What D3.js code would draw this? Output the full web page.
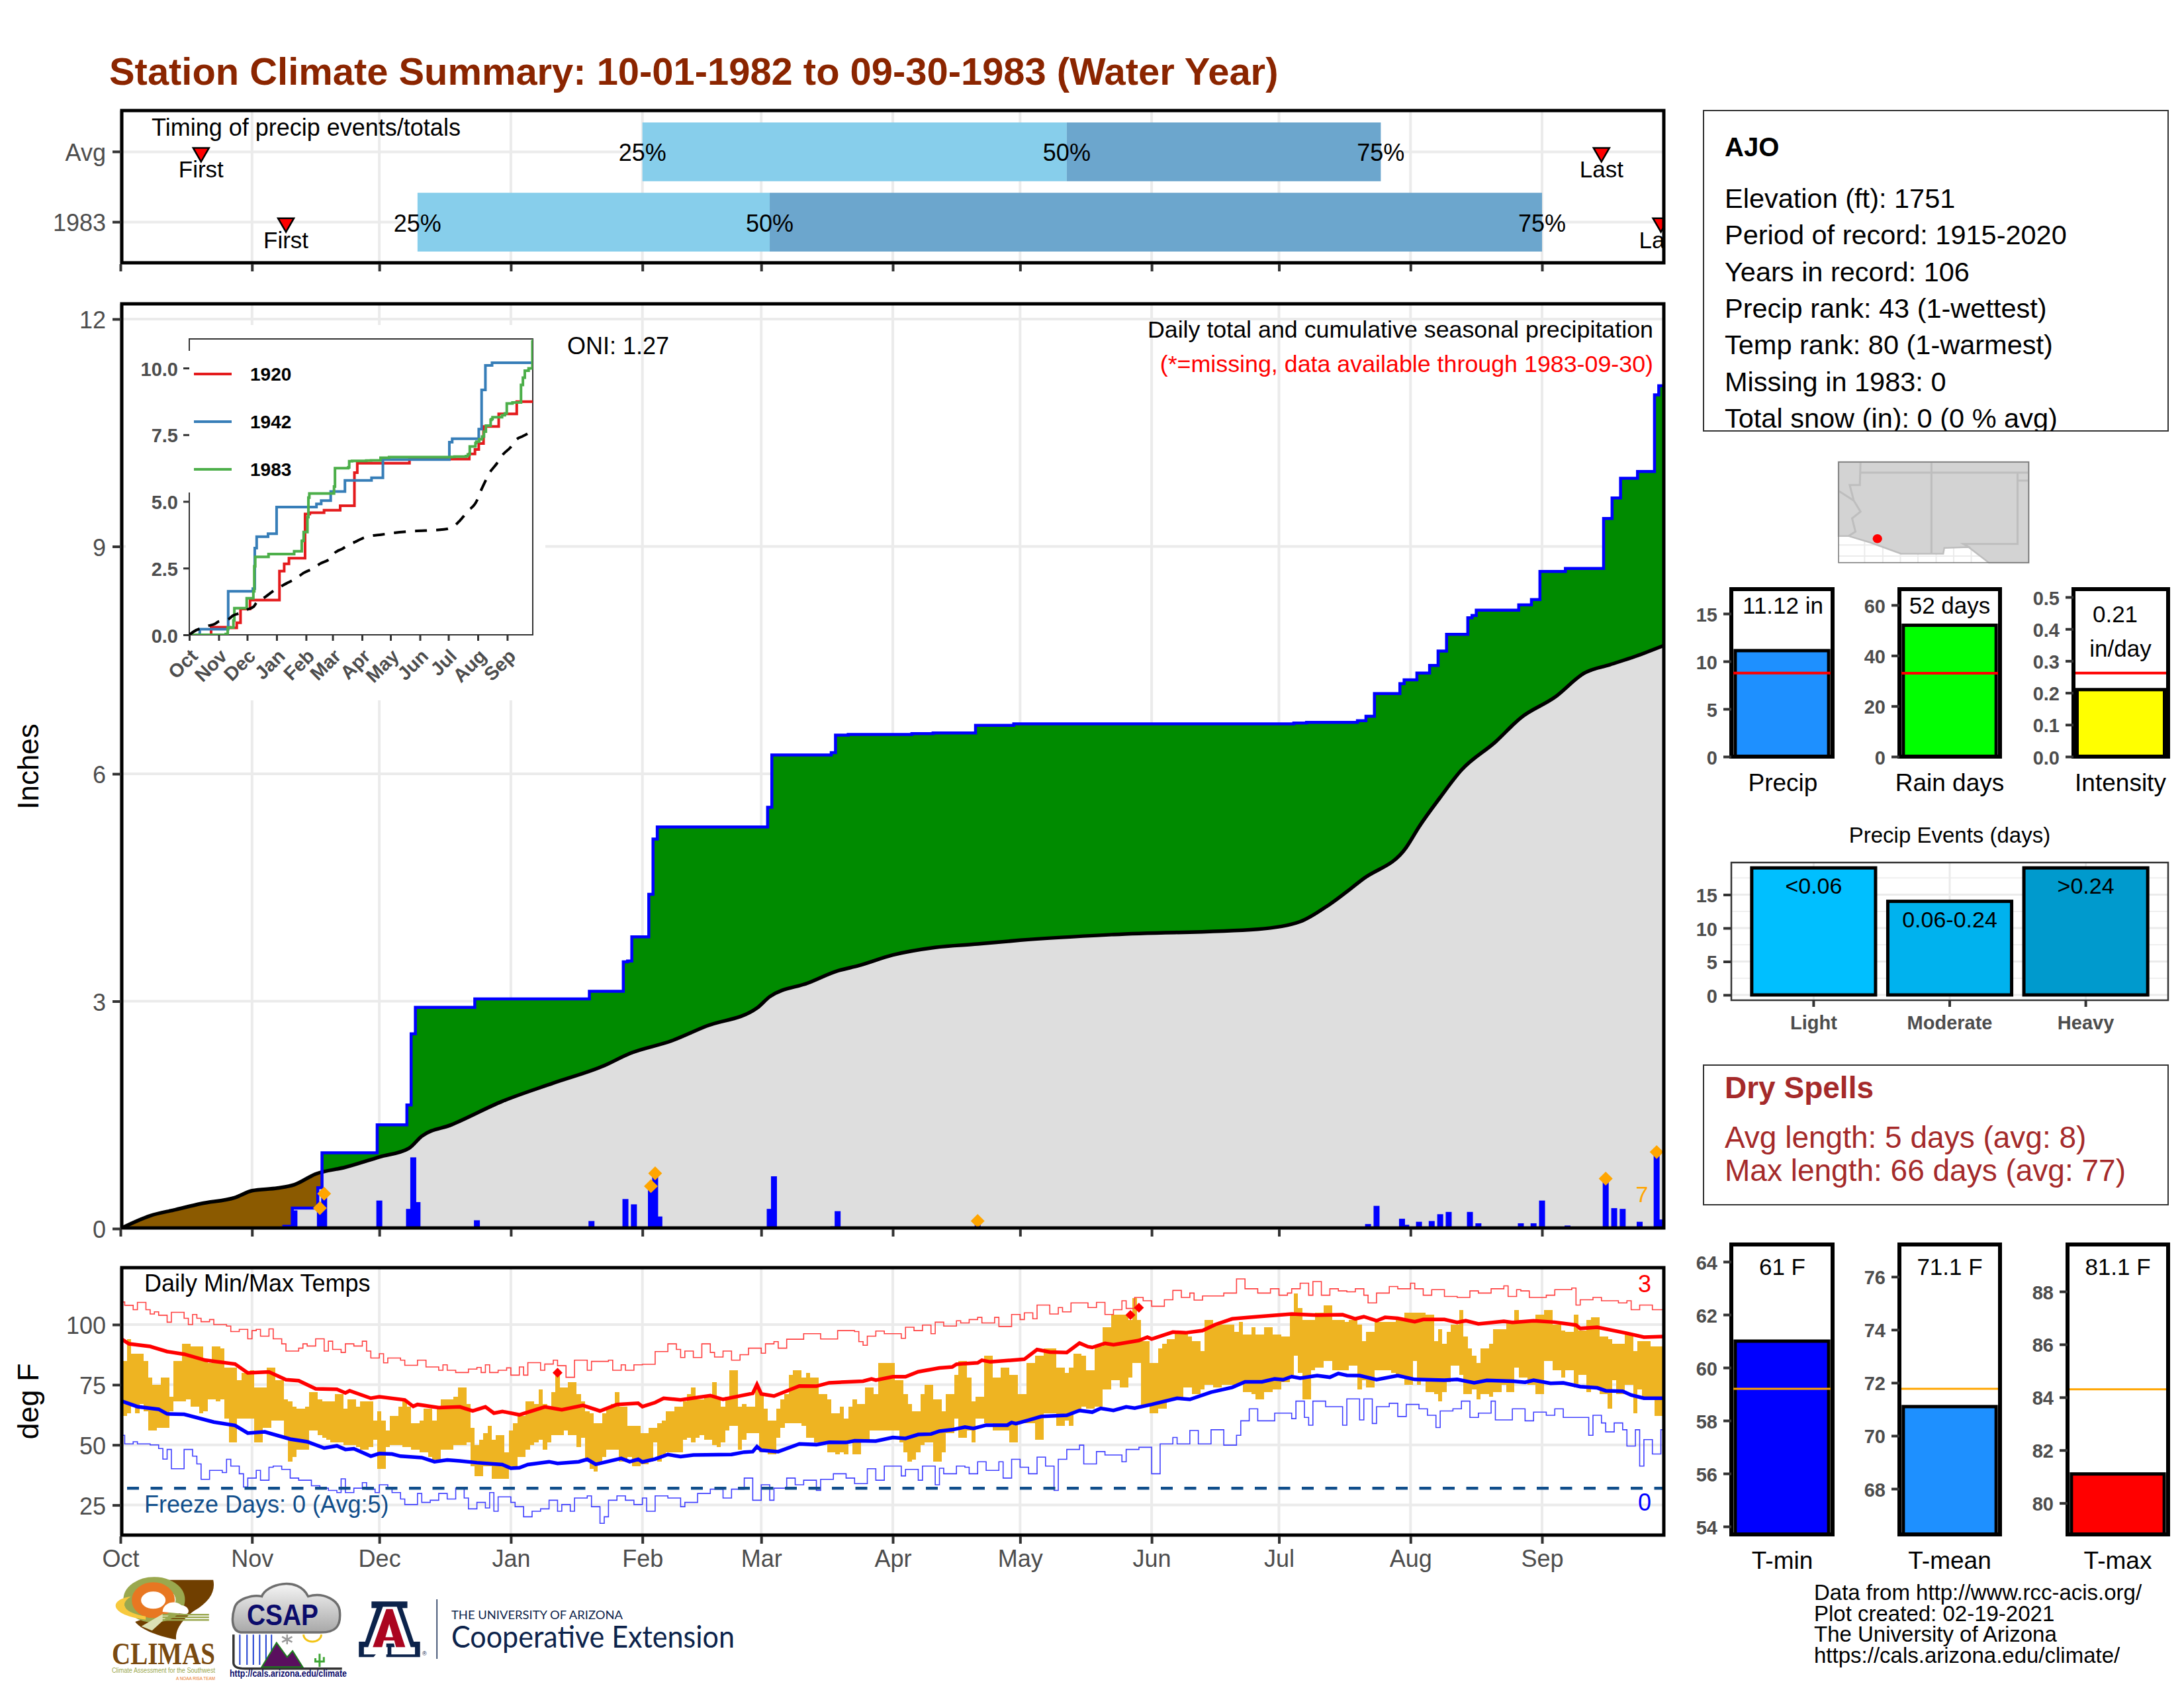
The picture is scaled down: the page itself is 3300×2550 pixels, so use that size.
<!DOCTYPE html>
<html>

<head>
  <title>Station Climate Summary</title>
  <script src="https://d3js.org/d3.v7.min.js"></script>
  <style>
    body { margin: 0; background: #fff; }
    text { font-family: "Liberation Sans", Arial, sans-serif; }
  </style>
</head>

<body>
  <div id="chart"></div>

  <script>
    const monthNames = ["Oct", "Nov", "Dec", "Jan", "Feb", "Mar", "Apr", "May", "Jun", "Jul", "Aug", "Sep"]
    const monthStarts = [0, 31, 61, 92, 123, 151, 182, 212, 243, 273, 304, 335]

    // timing strip
    const timingRows = ["Avg", "1983"]
    const timingFirst = [19, 39]
    const timingQ25 = [123, 70]
    const timingQ50 = [223, 153]
    const timingQ75 = [297, 335]
    const timingLast = [349, 363]

    // daily precip, only the days with rain
    const rainDays = [39, 41, 47, 48, 61, 68, 69, 70, 84, 111, 119, 120, 121, 125, 126, 127, 153, 154, 168, 169, 172, 187, 192, 202, 211, 277, 280, 292, 294, 296, 302, 303, 306, 309, 311, 313, 318, 319, 320, 330, 333, 335, 341, 350, 352, 354, 358, 362, 363]
    const rainAmounts = [.03, .24, .27, .46, .37, .26, .94, .35, .11, .10, .39, .01, .32, .56, .73, .16, .26, .69, .03, .23, .01, .01, .01, .10, .02, .01, .01, .02, .06, .30, .13, .05, .09, .10, .19, .22, .22, .03, .07, .07, .07, .37, .04, .66, .27, .26, .09, 1.01, .12]
    const rainRecordDays = [47, 48, 125, 126, 202, 350, 362]

    // climatological cumulative precip [day, inches]
    const avgPrecip = [[0, 0], [7, .17], [13, .25], [19, .33], [27, .41], [31, .50], [37, .535], [41, .58], [46, .72], [53, .81], [61, .945], [68, 1.06], [71, 1.22], [78, 1.37], [90, 1.68], [102, 1.92], [114, 2.15], [120, 2.31], [130, 2.48], [138, 2.67], [150, 2.91], [153, 3.06], [162, 3.24], [169, 3.40], [174, 3.47], [182, 3.61], [192, 3.71], [202, 3.755], [212, 3.805], [234, 3.88], [268, 3.95], [278, 4.05], [285, 4.28], [293, 4.62], [303, 5.03], [306, 5.30], [311, 5.69], [316, 6.05], [324, 6.42], [330, 6.74], [338, 7.01], [345, 7.33], [351, 7.44], [357, 7.55], [364, 7.70]]

    // analog years in the inset [day, inches]
    const year1920 = [[0, 0], [23, .285], [43, .26], [50, .45], [54, .97], [64, 1.30], [95, 2.39], [100, 2.66], [105, 2.87], [122, 4.53], [127, 4.58], [142, 4.67], [159, 4.84], [174, 6.08], [177, 6.43], [232, 6.59], [295, 6.78], [301, 6.95], [305, 7.17], [310, 7.81], [326, 8.28], [345, 8.74]]
    const year1942 = [[0, 0], [11, .21], [41, 1.63], [67, 1.73], [69, 3.25], [71, 3.68], [83, 3.79], [92, 4.79], [134, 4.91], [139, 5.03], [149, 5.37], [164, 5.79], [192, 5.89], [204, 6.57], [274, 7.22], [277, 7.35], [305, 7.71], [308, 9.18], [312, 10.1], [319, 10.2]]

    // daily max and min temps
    const tmax = [80, 85, 94, 88, 88, 88, 85, 78, 75, 75, 78, 78, 70, 85, 85, 92, 92, 91, 91, 91, 85, 84, 91, 91, 90, 82, 82, 82, 77, 80, 80, 81, 74, 74, 74, 82, 82, 77, 77, 69, 68, 66, 65, 65, 66, 72, 72, 69, 68, 68, 68, 71, 71, 65, 69, 69, 66, 68, 68, 68, 60, 64, 60, 56, 62, 62, 66, 69, 66, 59, 59, 60, 65, 65, 60, 66, 69, 69, 69, 70, 74, 74, 67, 57, 50, 52, 55, 58, 52, 54, 54, 47, 56, 59, 62, 62, 68, 68, 67, 73, 67, 66, 72, 80, 74, 74, 76, 76, 71, 68, 64, 63, 59, 59, 63, 65, 67, 72, 66, 66, 58, 58, 58, 55, 55, 57, 57, 59, 60, 64, 64, 66, 66, 68, 71, 74, 69, 69, 70, 70, 76, 69, 66, 70, 81, 81, 66, 67, 66, 66, 74, 71, 65, 60, 60, 65, 69, 71, 79, 81, 81, 78, 80, 78, 78, 71, 71, 69, 63, 63, 66, 61, 66, 69, 67, 67, 74, 74, 71, 84, 84, 84, 84, 77, 77, 71, 67, 64, 64, 71, 75, 75, 69, 69, 64, 71, 71, 79, 85, 85, 78, 68, 70, 70, 87, 87, 78, 78, 82, 82, 79, 79, 71, 71, 84, 84, 87, 87, 90, 90, 90, 82, 82, 80, 82, 88, 88, 87, 81, 81, 91, 91, 99, 99, 104, 104, 104, 104, 102, 111, 102, 93, 93, 84, 84, 90, 92, 94, 94, 97, 97, 97, 95, 93, 93, 89, 102, 102, 100, 100, 100, 100, 100, 97, 101, 96, 96, 99, 96, 96, 99, 99, 96, 96, 95, 95, 104, 113, 107, 102, 102, 102, 105, 105, 108, 108, 102, 102, 102, 101, 102, 102, 100, 93, 97, 97, 101, 101, 101, 101, 101, 102, 102, 105, 105, 105, 105, 105, 104, 104, 93, 98, 92, 97, 100, 100, 106, 95, 90, 87, 84, 90, 90, 92, 98, 98, 98, 101, 101, 106, 102, 102, 102, 102, 104, 104, 106, 106, 100, 100, 97.5, 97, 97, 104, 97.5, 97.5, 102, 103, 103, 95, 95, 94, 92, 92, 92, 96, 96, 89, 93, 93, 93, 91, 91, 91, 91]
    const tmin = [62, 62, 63, 66, 63, 67, 64, 56, 56, 57, 57, 57, 64, 68, 68, 68, 69, 66, 66, 63, 64, 69, 69, 68, 69, 61, 51, 51, 61, 61, 61, 61, 51, 51, 57, 57, 60, 60, 60, 53, 43, 45, 48, 48, 48, 56, 56, 54, 53, 52, 51, 51, 51, 50, 50, 50, 49, 48, 48, 49, 52, 40, 40, 49, 50, 50, 50, 49, 49, 48, 48, 47, 47, 45, 44, 43, 48, 48, 48, 50, 50, 50, 51, 41, 37, 37, 41, 41, 36, 36, 36, 36, 41, 41, 45, 45, 48, 50, 51, 52, 48, 51, 54, 54, 54, 56, 54, 54, 49, 53, 44, 40, 39, 42, 45, 48, 48, 48, 43, 43, 45, 41, 41, 42, 42, 43, 51, 43, 46, 47, 47, 47, 47, 52, 53, 51, 53, 54, 52, 52, 50, 49, 51, 56, 58, 58, 48, 52, 55, 55, 55, 47, 47, 46, 46, 53, 57, 59, 59, 59, 59, 58, 53, 53, 51, 51, 51, 47, 47, 46, 47, 46, 51, 46, 46, 51, 51, 56, 56, 56, 56, 56, 56, 56, 51, 47, 43, 44, 47, 50, 51, 51, 43, 43, 47, 55, 55, 61, 53, 53, 56, 51, 61, 61, 59, 59, 56, 56, 56, 56, 51, 51, 59, 59, 59, 59, 52, 52, 63, 63, 63, 58, 58, 60, 58, 64, 64, 66, 65, 65, 66, 66, 73, 73, 77, 77, 74, 74, 78, 84, 84, 66, 66, 63, 63, 65, 65, 69, 69, 69, 69, 74, 74, 71, 71, 73, 75, 75, 74, 74, 75, 75, 75, 75, 75, 72, 72, 71, 69, 69, 72, 72, 73, 73, 76, 76, 79, 87, 80, 69, 69, 81, 82, 82, 85, 85, 81, 81, 81, 81, 83, 83, 73, 77, 74, 74, 81, 81, 81, 81, 80, 78, 78, 75, 75, 85, 75, 77, 72, 72, 71, 68, 72, 76, 83, 83, 79, 71, 71, 73, 69, 71, 71, 70, 72, 72, 75, 72, 72, 82, 78, 78, 75, 75, 71, 71, 85, 85, 81, 81, 78, 81, 81, 74, 79, 79, 72, 74, 74, 71, 71, 65, 77, 71, 71, 75, 75, 63, 73, 69, 69, 70, 62, 62, 62]
    const recordHighDays = [103, 238, 240]
    const recordHighTemps = [80, 104, 107]

    // smoothed climatology [day, deg F]
    const avgMax = [[0, 94.3], [2, 92], [7, 90.9], [11, 88.8], [15, 87.7], [20, 85.2], [27, 83.6], [30, 79.9], [35, 80.3], [39, 77.1], [42, 76.7], [46, 73.3], [51, 73.1], [53, 71.6], [54, 72.5], [59, 69.4], [61, 70], [67, 68.7], [69, 66], [70, 66.8], [75, 65.5], [80, 65.8], [83, 64.1], [86, 65.8], [88, 63.2], [90, 63.9], [94, 62.5], [100, 65.8], [104, 64.6], [109, 66.4], [113, 64.1], [117, 66.8], [122, 67.3], [123, 65.9], [126, 67.6], [128, 69.4], [132, 68.7], [139, 70.5], [142, 68.9], [149, 71.4], [150, 75.1], [151, 71.2], [154, 70.3], [160, 74.5], [164, 74.4], [167, 75.8], [175, 76.5], [177, 77.4], [178, 76.9], [182, 78.3], [185, 78.3], [188, 80.4], [193, 82], [196, 82.4], [197, 83.5], [199, 83.8], [202, 84.1], [203, 85.2], [205, 84.5], [213, 85.6], [216, 89.6], [219, 88.6], [223, 88.4], [226, 92.3], [228, 90.8], [229, 90.5], [232, 92.2], [234, 91.6], [240, 93.4], [242, 94.8], [243, 94], [248, 96.9], [251, 96.6], [255, 97.5], [258, 100], [262, 102.4], [268, 103.3], [276, 104.4], [282, 103.9], [288, 104.1], [291, 102.4], [293, 103.3], [296, 101.6], [298, 103], [301, 102.6], [305, 101.2], [307, 102.1], [312, 102.1], [315, 100.9], [317, 101.6], [320, 100.3], [326, 101.4], [328, 100.9], [333, 101.6], [338, 101], [343, 99.8], [344, 98.4], [348, 98.9], [355, 96.4], [359, 94.8], [364, 95.1]]
    const avgMin = [[0, 68.4], [4, 65.9], [9, 64.8], [11, 62.9], [15, 62.7], [22, 59.5], [27, 58.1], [30, 54.9], [34, 55.4], [40, 52.4], [44, 51.3], [48, 48.7], [51, 49.6], [53, 48.1], [55, 48.4], [59, 45.3], [61, 46.4], [64, 46.2], [66, 45.3], [71, 44.7], [74, 43], [77, 43.7], [80, 43.3], [84, 42.6], [90, 41.8], [92, 40.3], [94, 40.5], [96, 41.8], [101, 43], [103, 42.3], [108, 43], [110, 44], [112, 41.9], [118, 44.4], [120, 43], [122, 44], [123, 42.9], [126, 44.1], [129, 46], [132, 45.1], [135, 45.8], [144, 46], [147, 47], [149, 47.2], [150, 49.3], [151, 47.8], [155, 47.2], [160, 50.4], [164, 50.1], [167, 51.1], [171, 51], [173, 51.7], [178, 51.6], [182, 53.1], [185, 52.7], [188, 54.3], [191, 54.5], [193, 55.7], [196, 56.3], [199, 57.4], [201, 56.8], [204, 58.2], [209, 58.2], [210, 59.3], [211, 58.8], [214, 60.3], [217, 61.8], [223, 62.3], [226, 64.3], [229, 63.6], [231, 65.2], [234, 64.3], [237, 65.8], [239, 65.3], [243, 66.8], [249, 69.4], [252, 68.9], [257, 71.9], [262, 73.9], [265, 76.2], [269, 76.2], [272, 77.4], [274, 77.1], [276, 78.4], [278, 77.7], [282, 78.8], [285, 78.1], [287, 79.7], [289, 78.9], [292, 78.8], [296, 77.1], [301, 78.8], [305, 77.2], [312, 76.9], [315, 77.2], [319, 75.8], [322, 76.8], [328, 76.5], [331, 76], [333, 76.9], [337, 75.6], [340, 75.8], [344, 74.2], [348, 73.7], [350, 72.5], [354, 72.3], [356, 70.7], [359, 69.4], [364, 69.4]]

    // daily records, change points only [day, deg F]
    const recHigh = [[0, 109.4], [1, 108], [3, 106.2], [4, 109.2], [6, 106.2], [7, 104.4], [8, 105.3], [9, 103.9], [11, 101], [12, 105.1], [15, 102.6], [16, 100], [17, 104.2], [18, 102.6], [19, 101.2], [21, 102.1], [22, 100], [25, 99.4], [26, 97.1], [28, 98], [30, 94.1], [31, 97.5], [32, 98], [33, 95.2], [35, 98.2], [36, 94.1], [38, 92], [39, 89], [42, 90.2], [43, 92], [44, 91.1], [46, 94.1], [48, 89], [49, 93.1], [50, 89.7], [52, 88.4], [53, 92], [55, 91.1], [57, 93.1], [58, 89], [59, 86.1], [61, 87.9], [62, 84.1], [63, 86.1], [66, 85.2], [67, 83.1], [70, 85.2], [72, 82.4], [75, 81], [76, 83.3], [77, 81], [79, 80.1], [82, 81.5], [84, 82.2], [85, 80.1], [86, 83.3], [87, 80.1], [89, 81], [91, 82], [92, 79], [94, 82.4], [95, 79], [96, 84.2], [99, 81], [100, 83.6], [102, 85.2], [103, 82.9], [105, 78.1], [107, 85.2], [110, 81], [111, 84.7], [115, 85.2], [116, 81], [118, 83.3], [119, 81], [121, 83.3], [123, 83.5], [126, 88.8], [129, 92], [131, 89.7], [132, 86.3], [133, 89], [135, 86.3], [137, 92], [139, 88.4], [140, 86.5], [142, 89], [144, 85.2], [146, 87.5], [148, 90.2], [151, 88.1], [152, 92], [154, 92.9], [155, 90.2], [157, 93.9], [161, 96.2], [165, 94], [169, 97.5], [173, 97.1], [174, 92.9], [175, 91.4], [176, 95.2], [178, 97.3], [180, 96.2], [184, 94.3], [185, 98.9], [187, 97.5], [189, 99.8], [191, 96.2], [192, 101], [194, 99.4], [197, 101.6], [198, 100.7], [200, 102.1], [202, 103], [203, 100.7], [206, 103], [207, 99.2], [210, 104.2], [212, 102.1], [213, 104.9], [215, 102.4], [216, 108.1], [219, 104.4], [221, 107.1], [222, 105.3], [224, 109], [228, 107.1], [230, 109.2], [232, 104.2], [234, 106.2], [236, 109.9], [237, 106.7], [239, 111.3], [241, 109.9], [243, 107.6], [246, 110.3], [248, 114.2], [250, 111.3], [252, 113.1], [253, 110.2], [255, 111.9], [260, 113.1], [263, 119], [265, 114.9], [268, 113.1], [271, 114.9], [273, 112.2], [275, 113.1], [276, 114.9], [278, 117.2], [280, 112.2], [281, 117.9], [283, 112.2], [285, 114.9], [287, 114], [289, 113.6], [291, 114.9], [293, 112.2], [294, 109], [296, 113.1], [299, 115.8], [301, 114.9], [304, 117.2], [305, 114.9], [307, 112.2], [309, 114.5], [312, 111.7], [315, 111.3], [318, 114], [320, 113.1], [323, 114.9], [326, 116.1], [327, 111.7], [329, 114.5], [330, 114], [332, 111.3], [336, 112.2], [338, 114.5], [342, 115.2], [343, 108.1], [344, 110.3], [347, 111.3], [349, 109.9], [353, 109], [355, 109.9], [356, 106.2], [358, 108.1], [361, 106.2], [364, 106.2]]
    const recLow = [[0, 54], [1, 50.4], [3, 51.3], [4, 50.4], [7, 50], [9, 48.5], [10, 44.1], [11, 48.1], [12, 40.1], [15, 48.1], [17, 45.3], [18, 42.1], [19, 35.7], [21, 39.4], [24, 38.5], [25, 44], [26, 41.2], [28, 38], [29, 32.5], [30, 36.2], [32, 39.4], [33, 35.3], [35, 40.7], [36, 41.2], [38, 39.8], [40, 36.2], [42, 35.3], [45, 33], [47, 32], [49, 31.1], [51, 30.2], [52, 35.9], [53, 30.2], [55, 32], [57, 34.3], [58, 31.6], [60, 30.2], [61, 33.4], [63, 32], [64, 30.2], [66, 27.5], [67, 25.2], [70, 29.8], [71, 26.1], [73, 27], [75, 29.8], [77, 27.5], [79, 32], [81, 27.9], [82, 23.4], [84, 26.1], [86, 23.8], [87, 30.2], [88, 22.4], [89, 28.4], [92, 26.1], [93, 24.3], [95, 20.1], [97, 22.4], [99, 23.4], [101, 27], [103, 22.4], [104, 25.2], [106, 22.4], [107, 27.9], [110, 28.8], [111, 24.3], [113, 17.4], [114, 20.1], [115, 27], [117, 28.8], [119, 27], [121, 25.2], [123, 27.9], [124, 22.4], [126, 28.8], [129, 27.9], [132, 24.3], [133, 26.1], [136, 29.8], [139, 31.6], [142, 27.9], [144, 31.6], [147, 36.2], [149, 27], [151, 33.4], [153, 27], [154, 32], [157, 36.2], [159, 33.4], [161, 35.3], [164, 31.1], [165, 35.7], [168, 38], [171, 36.2], [173, 33.9], [176, 40.1], [178, 35.3], [180, 41.2], [184, 37.1], [185, 39.8], [188, 35.3], [189, 41.2], [192, 33.4], [193, 40.3], [194, 38], [197, 41.2], [199, 40.7], [200, 38], [202, 43], [204, 39.4], [207, 43], [208, 36.2], [210, 44], [212, 40.7], [214, 38], [216, 44.9], [218, 41.2], [220, 31.1], [221, 44], [223, 48.1], [226, 49.9], [227, 42.1], [230, 47.2], [232, 45.8], [236, 43], [237, 48.1], [240, 49], [243, 38], [245, 50.4], [248, 53.1], [249, 50.4], [252, 56], [254, 50.4], [257, 56.3], [260, 49.9], [263, 54], [264, 60], [266, 65], [268, 60], [272, 63.2], [276, 60.9], [277, 68.2], [279, 61.4], [280, 58.2], [281, 68.2], [284, 65.9], [288, 58.2], [289, 69.1], [292, 60.4], [293, 69.1], [295, 58.9], [296, 65.9], [299, 67.3], [301, 61.8], [303, 66.8], [306, 65], [308, 62.3], [310, 57.2], [311, 64.1], [314, 65], [316, 68.2], [318, 61.4], [320, 63.2], [323, 68.2], [324, 60.4], [328, 65], [331, 60], [333, 63.6], [336, 62.3], [338, 65], [340, 61.4], [344, 61.4], [346, 54], [347, 62.3], [349, 59.1], [350, 55.4], [352, 59.1], [354, 56.3], [355, 49.5], [357, 56.3], [358, 41.2], [359, 52.2], [361, 46.2], [363, 56.3], [364, 56.3]]
    const freezeLine = 32

    // side panels
    const stationLines = ["Elevation (ft): 1751", "Period of record: 1915-2020", "Years in record: 106", "Precip rank: 43 (1-wettest)", "Temp rank: 80 (1-warmest)", "Missing in 1983: 0", "Total snow (in): 0 (0 % avg)"]
    const eventLabels = ["Light", "Moderate", "Heavy"]
    const eventValues = [19, 14, 19]
    const eventText = ["<0.06", "0.06-0.24", ">0.24"]
    const eventColors = ["#00BFFF", "#00B2EE", "#009ACD"]
    const creditLines = ["Data from http://www.rcc-acis.org/", "Plot created: 02-19-2021", "The University of Arizona", "https://cals.arizona.edu/climate/"]

    const svg = d3.select("#chart").append("svg").attr("width", 3300).attr("height", 2550)
    const defs = svg.append("defs")
    let clipCount = 0

    function label(g, x, y, str, o = {}) {
      return g.append("text").attr("x", x).attr("y", y).text(str)
        .attr("font-size", o.size || 36)
        .attr("font-weight", o.weight || "normal")
        .attr("text-anchor", o.anchor || "start")
        .attr("fill", o.fill || "#000")
    }

    function clipRect(x, y, w, h) {
      const id = "clip" + (clipCount++)
      defs.append("clipPath").attr("id", id).append("rect").attr("x", x).attr("y", y).attr("width", w).attr("height", h)
      return `url(#${id})`
    }

    function styleAxis(g, size, weight, lineWidth) {
      g.select(".domain").remove()
      g.selectAll(".tick line").attr("stroke", "#333").attr("stroke-width", lineWidth || 4)
      g.selectAll(".tick text").attr("fill", "#4D4D4D").attr("font-size", size).attr("dy", ".38em")
        .attr("font-weight", weight || "normal").attr("font-family", '"Liberation Sans", Arial, sans-serif')
    }

    const L = 184, R = 2514
    const x = d3.scaleLinear().domain([0, 365]).range([182, 182 + 365 * 6.412])

    function grid(g, top, bottom, yScale, yTicks) {
      monthStarts.forEach(m => {
        g.append("line").attr("x1", x(m)).attr("x2", x(m)).attr("y1", top).attr("y2", bottom).attr("stroke", "#EBEBEB").attr("stroke-width", 4)
      })
      yTicks.forEach(t => {
        g.append("line").attr("x1", L).attr("x2", R).attr("y1", yScale(t)).attr("y2", yScale(t)).attr("stroke", "#EBEBEB").attr("stroke-width", 4)
      })
    }

    function frame(top, bottom) {
      svg.append("rect").attr("x", L).attr("y", top).attr("width", R - L).attr("height", bottom - top)
        .attr("fill", "none").attr("stroke", "#000").attr("stroke-width", 5)
    }

    function monthAxis(bottom, named) {
      const g = svg.append("g").attr("transform", `translate(0,${bottom})`)
        .call(d3.axisBottom(x).tickValues(monthStarts).tickSize(13)
          .tickFormat((d, i) => named ? monthNames[i] : ""))
      styleAxis(g, 36)
      g.selectAll(".tick line").attr("y1", 2)
      g.selectAll(".tick text").attr("dy", 0).attr("y", 48)
    }

    label(svg, 165, 128, "Station Climate Summary: 10-01-1982 to 09-30-1983 (Water Year)", { size: 57.9, weight: "bold", fill: "#8B2500" })

    // ---- timing strip
    const topTop = 167, topBottom = 397
    const yTiming = d3.scaleBand().domain(timingRows).range([185, 380]).paddingInner(.164)
    const timing = svg.append("g")
    grid(timing, topTop, topBottom, d => yTiming(d) + yTiming.bandwidth() / 2, timingRows)
    const timingClip = timing.append("g").attr("clip-path", clipRect(L, topTop, R - L, topBottom - topTop))
    timingRows.forEach((r, i) => {
      const yb = yTiming(r), h = yTiming.bandwidth(), cy = yb + h / 2
      timingClip.append("rect").attr("x", x(timingQ25[i])).attr("y", yb).attr("height", h)
        .attr("width", x(timingQ50[i]) - x(timingQ25[i])).attr("fill", "#87CEEB")
      timingClip.append("rect").attr("x", x(timingQ50[i])).attr("y", yb).attr("height", h)
        .attr("width", x(timingQ75[i]) - x(timingQ50[i])).attr("fill", "#6CA6CD")
      ;[timingQ25, timingQ50, timingQ75].forEach((q, k) => {
        label(timingClip, x(q[i]), cy + 14, ["25%", "50%", "75%"][k], { anchor: "middle" })
      })
      ;[[timingFirst, "First"], [timingLast, "Last"]].forEach(([arr, name]) => {
        timingClip.append("path").attr("d", d3.symbol(d3.symbolTriangle, 250)())
          .attr("transform", `translate(${x(arr[i])},${cy + 1}) rotate(180)`)
          .attr("fill", "#f00").attr("stroke", "#000").attr("stroke-width", 2.5)
        label(timingClip, x(arr[i]), cy + 39, name, { anchor: "middle", size: 35 })
      })
    })
    label(timingClip, 229, 205, "Timing of precip events/totals", { size: 36 })
    frame(topTop, topBottom)
    const timingAxis = svg.append("g").attr("transform", "translate(183,0)")
      .call(d3.axisLeft(yTiming).tickSize(13).tickPadding(10))
    styleAxis(timingAxis, 36)
    monthAxis(topBottom, false)

    // ---- main precip panel
    const mainTop = 459, mainBottom = 1855
    const yP = d3.scaleLinear().domain([0, 12]).range([1856, 482])
    const main = svg.append("g")
    grid(main, mainTop, mainBottom, yP, [0, 3, 6, 9, 12])

    const rainByDay = new Map(rainDays.map((d, i) => [d, rainAmounts[i]]))
    const cumDaily = []
    d3.range(365).reduce((sum, day) => {
      const total = sum + (rainByDay.get(day) || 0)
      cumDaily.push({ day, total })
      return total
    }, 0)

    const plotClip = main.append("g").attr("clip-path", clipRect(L, mainTop, R - L, mainBottom - mainTop))
    const cumArea = d3.area().curve(d3.curveStep).x(d => x(d.day)).y0(yP(0)).y1(d => yP(d.total))
    const avgArea = d3.area().curve(d3.curveMonotoneX).x(d => x(d[0])).y0(yP(0)).y1(d => yP(d[1]))
    plotClip.append("path").attr("d", cumArea(cumDaily)).attr("fill", "#008B00")
    plotClip.append("path").attr("d", avgArea(avgPrecip)).attr("fill", "#8B5A00")

    const underCum = "underCum"
    defs.append("clipPath").attr("id", underCum).append("path").attr("d", cumArea(cumDaily))
    plotClip.append("g").attr("clip-path", `url(#${underCum})`).append("path")
      .attr("d", avgArea(avgPrecip)).attr("fill", "#DEDEDE")

    plotClip.selectAll(".rainbar").data(rainDays).enter().append("rect")
      .attr("x", d => x(d) - 4.5).attr("width", 9)
      .attr("y", d => yP(rainByDay.get(d))).attr("height", d => yP(0) - yP(rainByDay.get(d)))
      .attr("fill", "#0000FF")

    plotClip.append("path").datum(avgPrecip)
      .attr("d", d3.line().curve(d3.curveMonotoneX).x(d => x(d[0])).y(d => yP(d[1])))
      .attr("fill", "none").attr("stroke", "#000").attr("stroke-width", 5.5)
    plotClip.append("path").datum(cumDaily.filter(d => d.day >= 38))
      .attr("d", d3.line().curve(d3.curveStep).x(d => x(d.day)).y(d => yP(d.total)))
      .attr("fill", "none").attr("stroke", "#0000FF").attr("stroke-width", 4.5)

    plotClip.selectAll(".record").data(rainRecordDays).enter().append("path")
      .attr("d", d3.symbol(d3.symbolDiamond2, 280)())
      .attr("transform", d => `translate(${x(d)},${yP(rainByDay.get(d))})`)
      .attr("fill", "#FFA500")
    label(plotClip, 2481, 1816, String(rainRecordDays.length), { anchor: "middle", fill: "#FFA500", size: 34 })

    // inset of analog years
    main.append("rect").attr("x", 190).attr("y", 491).attr("width", 634).attr("height", 567).attr("fill", "#fff")
    const ix = d3.scaleLinear().domain([0, 334]).range([286, 765])
    const iy = d3.scaleLinear().domain([0, 10]).range([959, 556])
    main.append("rect").attr("x", 286).attr("y", 512).attr("width", 519).attr("height", 447)
      .attr("fill", "none").attr("stroke", "#333").attr("stroke-width", 2)
    main.append("rect").attr("x", 284).attr("y", 530).attr("width", 160).attr("height", 214).attr("fill", "#fff")
    const insetClip = main.append("g").attr("clip-path", clipRect(286, 512, 519, 447))
    const stepLine = d3.line().curve(d3.curveStepAfter).x(d => ix(d[0])).y(d => iy(d[1]))
    const extendYear = s => s.concat([[364, s[s.length - 1][1]]])
    insetClip.append("path").attr("d", stepLine(extendYear(year1920))).attr("fill", "none").attr("stroke", "#E41A1C").attr("stroke-width", 4)
    insetClip.append("path").attr("d", stepLine(extendYear(year1942))).attr("fill", "none").attr("stroke", "#377EB8").attr("stroke-width", 4)
    insetClip.append("path").attr("d", d3.line().curve(d3.curveStep).x(d => ix(d.day)).y(d => iy(d.total))(cumDaily))
      .attr("fill", "none").attr("stroke", "#4DAF4A").attr("stroke-width", 4)
    insetClip.append("path").attr("d", d3.line().curve(d3.curveMonotoneX).x(d => ix(d[0])).y(d => iy(d[1]))(avgPrecip))
      .attr("fill", "none").attr("stroke", "#000").attr("stroke-width", 4).attr("stroke-dasharray", "18,14")
    ;[["1920", "#E41A1C", 565], ["1942", "#377EB8", 637], ["1983", "#4DAF4A", 709]].forEach(([yr, col, ly]) => {
      main.append("line").attr("x1", 293).attr("x2", 350).attr("y1", ly).attr("y2", ly).attr("stroke", col).attr("stroke-width", 4)
      label(main, 378, ly + 10, yr, { size: 28, weight: "bold" })
    })
    const insetY = main.append("g").attr("transform", "translate(286,0)")
      .call(d3.axisLeft(iy).tickValues([0, 2.5, 5, 7.5, 10]).tickFormat(d3.format(".1f")).tickSize(9).tickPadding(8))
    styleAxis(insetY, 29, "bold", 3)
    const insetX = main.append("g").attr("transform", "translate(0,959)")
      .call(d3.axisBottom(ix).tickValues(monthStarts).tickSize(9).tickFormat((d, i) => monthNames[i]))
    styleAxis(insetX, 29, "bold", 3)
    insetX.selectAll(".tick text").attr("y", 0).attr("dy", 0).attr("text-anchor", "end")
      .attr("transform", "translate(14,34) rotate(-45)")

    label(main, 857, 535, "ONI: 1.27")
    label(main, 2498, 510, "Daily total and cumulative seasonal precipitation", { anchor: "end", size: 35.8 })
    label(main, 2498, 562, "(*=missing, data available through 1983-09-30)", { anchor: "end", fill: "#f00", size: 35.8 })

    frame(mainTop, mainBottom)
    const mainAxis = svg.append("g").attr("transform", "translate(183,0)")
      .call(d3.axisLeft(yP).tickValues([0, 3, 6, 9, 12]).tickSize(13).tickPadding(10))
    styleAxis(mainAxis, 36)
    monthAxis(mainBottom, false)
    label(svg, 0, 0, "Inches", { size: 44, anchor: "middle" }).attr("transform", "translate(58,1158) rotate(-90)")

    // ---- temperature panel
    const tempTop = 1915, tempBottom = 2319
    const yT = d3.scaleLinear().domain([25, 100]).range([2273.6, 2001])
    const temp = svg.append("g")
    grid(temp, tempTop, tempBottom, yT, [25, 50, 75, 100])
    const tempClip = temp.append("g").attr("clip-path", clipRect(L, tempTop, R - L, tempBottom - tempTop))
    tempClip.selectAll(".tbar").data(d3.range(Math.min(tmax.length, tmin.length))).enter().append("rect")
      .attr("x", d => x(d) - 3.2).attr("width", 6.5)
      .attr("y", d => yT(tmax[d])).attr("height", d => yT(tmin[d]) - yT(tmax[d]))
      .attr("fill", "#EEB422").attr("shape-rendering", "crispEdges")
    const tempStep = d3.line().curve(d3.curveStepAfter).x(d => x(d[0])).y(d => yT(d[1]))
    const tempLine = d3.line().x(d => x(d[0])).y(d => yT(d[1]))
    tempClip.append("path").attr("d", tempStep(recHigh)).attr("fill", "none").attr("stroke", "#FF4040").attr("stroke-width", 1.6)
    tempClip.append("path").attr("d", tempStep(recLow)).attr("fill", "none").attr("stroke", "#4040FF").attr("stroke-width", 1.6)
    tempClip.append("path").attr("d", tempLine(avgMax)).attr("fill", "none").attr("stroke", "#f00").attr("stroke-width", 5.5)
    tempClip.append("path").attr("d", tempLine(avgMin)).attr("fill", "none").attr("stroke", "#00f").attr("stroke-width", 5.5)
    tempClip.append("line").attr("x1", L + 8).attr("x2", R).attr("y1", yT(freezeLine)).attr("y2", yT(freezeLine))
      .attr("stroke", "#104E8B").attr("stroke-width", 4.5).attr("stroke-dasharray", "18,17.5")
    tempClip.selectAll(".hi").data(recordHighDays).enter().append("path")
      .attr("d", d3.symbol(d3.symbolDiamond2, 144)())
      .attr("transform", (d, i) => `translate(${x(d)},${yT(recordHighTemps[i])})`)
      .attr("fill", "#f00")
    label(tempClip, 218, 1951, "Daily Min/Max Temps")
    label(tempClip, 218, 2285, "Freeze Days: 0 (Avg:5)", { fill: "#104E8B" })
    label(tempClip, 2485, 1952, String(recordHighDays.length), { fill: "#f00", anchor: "middle" })
    label(tempClip, 2485, 2282, "0", { fill: "#00f", anchor: "middle" })
    frame(tempTop, tempBottom)
    const tempAxis = svg.append("g").attr("transform", "translate(183,0)")
      .call(d3.axisLeft(yT).tickValues([25, 50, 75, 100]).tickSize(13).tickPadding(10))
    styleAxis(tempAxis, 36)
    monthAxis(tempBottom, true)
    label(svg, 0, 0, "deg F", { size: 45, anchor: "middle" }).attr("transform", "translate(58,2117) rotate(-90)")

    // ---- station box
    const side = svg.append("g")
    side.append("rect").attr("x", 2574).attr("y", 167).attr("width", 702).attr("height", 484)
      .attr("fill", "#fff").attr("stroke", "#333").attr("stroke-width", 2)
    const stationClip = side.append("g").attr("clip-path", clipRect(2574, 167, 702, 484))
    label(stationClip, 2606, 236, "AJO", { size: 40, weight: "bold" })
    stationLines.forEach((s, i) => label(stationClip, 2606, 314 + i * 55.3, s, { size: 41.5 }))

    // locator map, drawn in its own little coordinate system
    const map = side.append("g").attr("transform", `translate(2500,150) scale(${1 / 1.96},${1 / 1.493})`)
    map.append("rect").attr("x", 545).attr("y", 818).attr("width", 563).attr("height", 227).attr("fill", "#fff")
    ;[622, 676, 728, 780, 834, 886, 938].forEach(v => {
      map.append("line").attr("x1", v).attr("x2", v).attr("y1", 960).attr("y2", 1045).attr("stroke", "#EBEBEB").attr("stroke-width", 2).attr("vector-effect", "non-scaling-stroke")
    })
    ;[1005, 1030].forEach(v => {
      map.append("line").attr("x1", 545).attr("x2", 1108).attr("y1", v).attr("y2", v).attr("stroke", "#EBEBEB").attr("stroke-width", 2).attr("vector-effect", "non-scaling-stroke")
    })
    map.append("path").attr("d", "M545,818L1108,818L1108,1045L990,1045L930,1010L858,1012L855,1025L730,1025L640,1000L575,985L545,985Z")
      .attr("fill", "#D3D3D3").attr("stroke", "#BEBEBE").attr("stroke-width", 2.5).attr("vector-effect", "non-scaling-stroke")
    ;["M610,818L608,870L578,870L590,905L610,930L585,945L595,975L575,985", "M545,883L590,905", "M820,818L820,1025", "M610,842L1108,842", "M1075,842L1075,1003L915,1003L935,1012", "M1075,860L1108,860"].forEach(p => {
      map.append("path").attr("d", p).attr("fill", "none").attr("stroke", "#BEBEBE").attr("stroke-width", 3).attr("vector-effect", "non-scaling-stroke")
    })
    map.append("rect").attr("x", 545).attr("y", 818).attr("width", 563).attr("height", 227).attr("fill", "none")
      .attr("stroke", "#777").attr("stroke-width", 1.5).attr("vector-effect", "non-scaling-stroke")
    map.append("ellipse").attr("cx", 660).attr("cy", 991).attr("rx", 14).attr("ry", 10).attr("fill", "#f00")

    // ---- small single bar panels
    function barPanel(o) {
      const g = svg.append("g")
      const bx = d3.scaleBand().domain([o.name]).range([o.x0, o.x1]).padding(.04)
      const by = d3.scaleLinear().domain(o.domain).range(o.range)
      g.append("rect").attr("x", o.x0).attr("y", o.top).attr("width", o.x1 - o.x0).attr("height", o.bottom - o.top).attr("fill", "#fff")
      const inner = g.append("g").attr("clip-path", clipRect(o.x0, o.top, o.x1 - o.x0, o.bottom - o.top))
      inner.append("rect").attr("x", bx(o.name)).attr("width", bx.bandwidth())
        .attr("y", by(o.value)).attr("height", o.bottom - by(o.value) + 10)
        .attr("fill", o.fill).attr("stroke", "#000").attr("stroke-width", 5)
      inner.append("line").attr("x1", o.x0).attr("x2", o.x1).attr("y1", by(o.avg)).attr("y2", by(o.avg))
        .attr("stroke", o.avgColor).attr("stroke-width", o.avgWidth)
      g.append("rect").attr("x", o.x0).attr("y", o.top).attr("width", o.x1 - o.x0).attr("height", o.bottom - o.top)
        .attr("fill", "none").attr("stroke", "#000").attr("stroke-width", 6)
      o.notes.forEach(n => label(g, n[0], n[1], n[2], { size: o.noteSize || 35, anchor: "middle" }))
      label(g, o.nameX, o.nameY, o.name, { anchor: "middle", size: 37 })
      const ax = g.append("g").attr("transform", `translate(${o.x0},0)`)
        .call(d3.axisLeft(by).tickValues(o.ticks).tickFormat(o.format || (d => d)).tickSize(12).tickPadding(9))
      styleAxis(ax, 29, "bold", 4)
    }

    barPanel({ name: "Precip", x0: 2616, x1: 2769, top: 890, bottom: 1143, domain: [0, 15], range: [1143, 927], ticks: [0, 5, 10, 15], value: 11.12, avg: 8.77, fill: "#1E90FF", avgColor: "#f00", avgWidth: 4, notes: [[2694, 927, "11.12 in"]], nameX: 2694, nameY: 1195 })
    barPanel({ name: "Rain days", x0: 2870, x1: 3022, top: 890, bottom: 1143, domain: [0, 60], range: [1143, 914], ticks: [0, 20, 40, 60], value: 52, avg: 33, fill: "#00FF00", avgColor: "#f00", avgWidth: 4, notes: [[2946, 927, "52 days"]], nameX: 2946, nameY: 1195 })
    barPanel({ name: "Intensity", x0: 3133, x1: 3276, top: 890, bottom: 1143, domain: [0, .5], range: [1143, 902], ticks: [0, .1, .2, .3, .4, .5], format: d3.format(".1f"), value: .21, avg: .262, fill: "#FFFF00", avgColor: "#f00", avgWidth: 4, notes: [[3196, 940, "0.21"], [3204, 992, "in/day"]], nameX: 3204, nameY: 1195 })

    barPanel({ name: "T-min", x0: 2616, x1: 2769, top: 1880, bottom: 2318, domain: [54, 64], range: [2306, 1906], ticks: [54, 56, 58, 60, 62, 64], value: 61, avg: 59.2, fill: "#0000FF", avgColor: "#FFA500", avgWidth: 3, notes: [[2693, 1926, "61 F"]], nameX: 2693, nameY: 2370 })
    barPanel({ name: "T-mean", x0: 2870, x1: 3022, top: 1880, bottom: 2318, domain: [68, 76], range: [2249, 1928.7], ticks: [68, 70, 72, 74, 76], value: 71.1, avg: 71.77, fill: "#1E90FF", avgColor: "#FFA500", avgWidth: 3, notes: [[2946, 1926, "71.1 F"]], nameX: 2946, nameY: 2370 })
    barPanel({ name: "T-max", x0: 3124, x1: 3276, top: 1880, bottom: 2318, domain: [80, 88], range: [2270.6, 1951], ticks: [80, 82, 84, 86, 88], value: 81.1, avg: 84.3, fill: "#FF0000", avgColor: "#FFA500", avgWidth: 3, notes: [[3200, 1926, "81.1 F"]], nameX: 3200, nameY: 2370 })

    // ---- precip events
    const events = svg.append("g")
    const ex = d3.scaleBand().domain(eventLabels).range([2616, 3276]).paddingInner(.09).paddingOuter(.15)
    const ey = d3.scaleLinear().domain([0, 20]).range([1503, 1301])
    label(events, 2946, 1273, "Precip Events (days)", { size: 33, anchor: "middle" })
    ;[2.5, 7.5, 12.5, 17.5].forEach(v => {
      events.append("line").attr("x1", 2616).attr("x2", 3276).attr("y1", ey(v)).attr("y2", ey(v)).attr("stroke", "#EBEBEB").attr("stroke-width", 1.5)
    })
    ;[0, 5, 10, 15].forEach(v => {
      events.append("line").attr("x1", 2616).attr("x2", 3276).attr("y1", ey(v)).attr("y2", ey(v)).attr("stroke", "#EBEBEB").attr("stroke-width", 3)
    })
    eventLabels.forEach(c => {
      const cx = ex(c) + ex.bandwidth() / 2
      events.append("line").attr("x1", cx).attr("x2", cx).attr("y1", 1303).attr("y2", 1511).attr("stroke", "#EBEBEB").attr("stroke-width", 3)
    })
    events.selectAll(".ebar").data(eventLabels).enter().append("rect")
      .attr("x", d => ex(d)).attr("width", ex.bandwidth())
      .attr("y", (d, i) => ey(eventValues[i])).attr("height", (d, i) => ey(0) - ey(eventValues[i]))
      .attr("fill", (d, i) => eventColors[i]).attr("stroke", "#000").attr("stroke-width", 5)
    eventLabels.forEach((c, i) => {
      label(events, ex(c) + ex.bandwidth() / 2, ey(eventValues[i]) + 39, eventText[i], { size: 34, anchor: "middle" })
    })
    events.append("rect").attr("x", 2616).attr("y", 1303).attr("width", 660).attr("height", 208)
      .attr("fill", "none").attr("stroke", "#333").attr("stroke-width", 2.5)
    const eventY = events.append("g").attr("transform", "translate(2616,0)")
      .call(d3.axisLeft(ey).tickValues([0, 5, 10, 15]).tickSize(12).tickPadding(9))
    styleAxis(eventY, 29, "bold", 4)
    const eventX = events.append("g").attr("transform", "translate(0,1511)")
      .call(d3.axisBottom(ex).tickSize(10))
    styleAxis(eventX, 29, "bold", 4)
    eventX.selectAll(".tick text").attr("dy", 0).attr("y", 44)

    // ---- dry spells
    const dry = svg.append("g")
    dry.append("rect").attr("x", 2574).attr("y", 1609).attr("width", 702).attr("height", 211)
      .attr("fill", "#fff").attr("stroke", "#333").attr("stroke-width", 2)
    label(dry, 2606, 1659, "Dry Spells", { size: 46, weight: "bold", fill: "#A52A2A" })
    label(dry, 2606, 1734, "Avg length: 5 days (avg: 8)", { size: 46, fill: "#A52A2A" })
    label(dry, 2606, 1784, "Max length: 66 days (avg: 77)", { size: 46, fill: "#A52A2A" })

    creditLines.forEach((s, i) => label(svg, 2741, 2417 + i * 31.7, s, { size: 33 }))

    // ---- logos, shapes are approximations in crop coordinates
    const logo = svg.append("g").attr("transform", `translate(150,2340) scale(${1 / 1.568},${1 / 3})`)
    const nss = "non-scaling-stroke"
    // CLIMAS
    logo.append("path").attr("d", "M150,140L270,140C276,190 262,240 225,280C200,315 180,360 182,410C150,400 100,370 85,330L130,300Z").attr("fill", "#703F00")
    logo.append("ellipse").attr("cx", 130).attr("cy", 230).attr("rx", 62).attr("ry", 82).attr("fill", "#fff").attr("stroke", "#9AA84E").attr("stroke-width", 14).attr("vector-effect", nss)
    logo.append("ellipse").attr("cx", 128).attr("cy", 232).attr("rx", 40).attr("ry", 60).attr("fill", "#fff").attr("stroke", "#E87722").attr("stroke-width", 14).attr("vector-effect", nss)
    logo.append("path").attr("d", "M75,215C20,230 25,300 110,320L110,305C60,290 45,250 75,215Z").attr("fill", "#F7C93E")
    logo.append("path").attr("d", "M150,285C150,250 175,225 195,255C215,260 215,295 205,295Z").attr("fill", "#fff")
    logo.append("path").attr("d", "M100,350L150,295L165,300L125,370Z").attr("fill", "#DDE2B5")
    ;[298, 310, 322].forEach(v => {
      logo.append("line").attr("x1", 150).attr("x2", 260).attr("y1", v).attr("y2", v).attr("stroke", "#9AA84E").attr("stroke-width", 2.5).attr("vector-effect", nss)
    })
    // CSAP
    const csapFill = defs.append("linearGradient").attr("id", "csapFill").attr("x1", 0).attr("x2", 0).attr("y1", 0).attr("y2", 1)
    csapFill.append("stop").attr("offset", "0%").attr("stop-color", "#F5F5F5")
    csapFill.append("stop").attr("offset", "100%").attr("stop-color", "#A8A8A8")
    logo.append("path").attr("d", "M335,378C310,370 315,300 320,270C325,225 365,205 385,215C395,160 470,120 495,215C530,195 570,230 570,290C572,350 560,378 525,378Z")
      .attr("fill", "url(#csapFill)").attr("stroke", "#6E6E6E").attr("stroke-width", 3.5).attr("vector-effect", nss)
    ;[333, 350, 365, 380, 395, 408].forEach(v => {
      logo.append("line").attr("x1", v).attr("x2", v).attr("y1", 388).attr("y2", 525).attr("stroke", "#1F3FD0").attr("stroke-width", 2).attr("vector-effect", nss)
    })
    logo.append("path").attr("d", "M318,388L318,515Q318,542 345,542L575,542").attr("fill", "none").attr("stroke", "#333").attr("stroke-width", 3.5).attr("vector-effect", nss)
    logo.append("path").attr("d", "M385,535L420,425L445,490L458,462L482,535Z").attr("fill", "#5A0F5E").attr("stroke", "#1E7D1E").attr("stroke-width", 2).attr("vector-effect", nss)
    logo.append("path").attr("d", "M522,475L522,535M512,495L512,510L532,510L532,490").attr("fill", "none").attr("stroke", "#3FA535").attr("stroke-width", 3).attr("vector-effect", nss)
    logo.append("path").attr("d", "M484,388A21,32 0 0 0 526,388").attr("fill", "none").attr("stroke", "#F2C313").attr("stroke-width", 3).attr("vector-effect", nss)
    logo.append("path").attr("d", "M445,388L445,432M433,398L457,422M457,398L433,422").attr("fill", "none").attr("stroke", "#999").attr("stroke-width", 2.5).attr("vector-effect", nss)
    // block A
    logo.append("path").attr("d", "M645,238L730,238L730,268L718,268L745,420L760,420L760,490L680,490L680,420L650,490L615,490L615,420L630,420L657,268L645,268Z").attr("fill", "#0C234B")
    logo.append("path").attr("d", "M690,262L705,262L738,445L748,445L748,478L692,478L692,445L700,445L698,428L677,428L675,445L683,445L683,478L627,478L627,445L637,445L672,262Z").attr("fill", "#fff")
    logo.append("path").attr("d", "M680,272L695,272L725,445L703,445L699,415L674,415L670,445L648,445Z").attr("fill", "#AB0520")
    logo.append("path").attr("d", "M687,340L696,400L678,400Z").attr("fill", "#fff")
    logo.append("line").attr("x1", 800).attr("x2", 800).attr("y1", 228).attr("y2", 498).attr("stroke", "#0C234B").attr("stroke-width", 1.5).attr("vector-effect", nss)

    const fit = (t, w) => t.attr("textLength", w).attr("lengthAdjust", "spacingAndGlyphs")
    const logoText = svg.append("g")
    fit(label(logoText, 169, 2514, "CLIMAS", { size: 46, weight: "bold", fill: "#7A4A10" }), 156).style("font-family", '"Liberation Serif", serif')
    fit(label(logoText, 169, 2527, "Climate Assessment for the Southwest", { size: 10, fill: "#9AA84E" }), 156)
    fit(label(logoText, 266, 2538, "A NOAA RISA TEAM", { size: 7, fill: "#E87722" }), 59)
    fit(label(logoText, 373, 2455, "CSAP", { size: 44, weight: "bold", fill: "#0B0B6B" }), 108)
    fit(label(logoText, 347, 2533, "http://cals.arizona.edu/climate", { size: 15, weight: "bold", fill: "#0B0B6B" }), 177)
    fit(label(logoText, 682, 2446, "THE UNIVERSITY OF ARIZONA", { size: 17, fill: "#0C234B" }), 259).style("font-family", '"Lato", sans-serif')
    fit(label(logoText, 682, 2489, "Cooperative Extension", { size: 46, fill: "#0C234B" }), 428).style("font-family", '"Lato", sans-serif')
    label(logoText, 638, 2501, "®", { size: 9, fill: "#0C234B" })
  </script>
</body>

</html>
